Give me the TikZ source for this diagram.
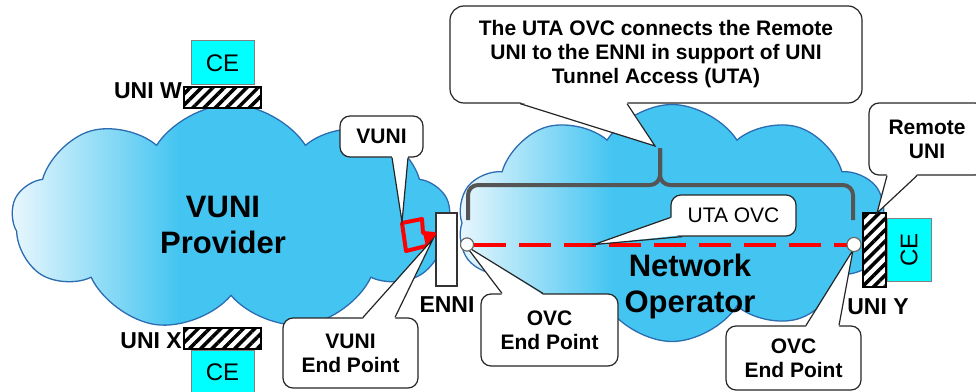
\documentclass[tikz,border=0pt]{standalone}
\usepackage{fontspec}
\setmainfont{Liberation Sans}
\usetikzlibrary{shapes.symbols,patterns.meta,calc}

\definecolor{cloudblue}{HTML}{44C5F1}
\definecolor{cloudlight}{HTML}{EAF7FD}
\definecolor{cloudedge}{HTML}{2C6CB0}
\definecolor{bracegray}{HTML}{555555}
\definecolor{cecyan}{HTML}{00FFFF}

\pgfdeclarehorizontalshading{provshade}{100bp}{color(0bp)=(cloudlight); color(25bp)=(cloudlight); color(44bp)=(cloudblue); color(100bp)=(cloudblue)}
\pgfdeclarehorizontalshading{opshade}{100bp}{color(0bp)=(cloudlight); color(25bp)=(cloudlight); color(43bp)=(cloudblue); color(100bp)=(cloudblue)}

\tikzset{
  cloudbody/.style={cloud, cloud puffs=9, cloud puff arc=115, draw=cloudedge, line width=1.3pt, shade},
  cloudtext/.style={align=center, font=\fontsize{31}{36}\selectfont\bfseries},
  cebox/.style={draw=gray, fill=cecyan, line width=0.8pt, inner sep=0pt,
    minimum width=63pt, minimum height=44pt, font=\fontsize{24}{28}\selectfont},
  unibox/.style={draw=black, line width=1.2pt, inner sep=0pt, preaction={fill=white},
    pattern={Lines[angle=45,distance=8pt,line width=3.5pt]}},
  unilabel/.style={font=\fontsize{23}{27}\selectfont\bfseries, inner sep=0pt},
  calloutbox/.style={draw=black!85, fill=white, line width=1.2pt, rounded corners=10pt,
    align=center, inner sep=0pt, font=\fontsize{21}{24}\selectfont\bfseries},
  pointer/.style={draw=black!85, line width=1.2pt},
  endpoint/.style={circle, draw=black!60, fill=white, line width=1pt, inner sep=0pt},
  ovcline/.style={red, line width=4pt, dash pattern=on 32pt off 13pt},
  bracestyle/.style={bracegray, line width=4pt, rounded corners=10pt},
}

\begin{document}
\begin{tikzpicture}[x=1pt,y=-1pt]
  \useasboundingbox (0,0) rectangle (976,391);

  % clouds
  \node[cloudbody, aspect=1.93, minimum width=438pt, minimum height=227pt, shading=provshade] (provcloud) at (231,218) {};
  \node[cloudbody, cloud puffs=10, aspect=1.81, minimum width=429pt, minimum height=237pt, shading=opshade] (opcloud) at (672,223) {};
  \node[cloudtext] (provtext) at (223,225) {VUNI\\Provider};
  \node[cloudtext] (optext) at (690,286) {Network\\Operator};

  % interfaces
  \node[unibox, minimum width=77pt, minimum height=21pt] (uniw) at (222.5,97.5) {};
  \node[cebox, anchor=south] (cew) at (uniw.north) {CE};
  \node[unilabel, anchor=base east] (uniwlabel) at (182,98) {UNI W};

  \node[unibox, minimum width=77pt, minimum height=21pt] (unix) at (222.5,338.5) {};
  \node[cebox, anchor=north] (cex) at (unix.south) {CE};
  \node[unilabel, anchor=base east] (unixlabel) at (182,348) {UNI X};

  \node[unibox, minimum width=23pt, minimum height=74pt] (uniy) at (874.5,250) {};
  \node[cebox, rotate=90, anchor=north] (cey) at (uniy.east) {CE};
  \node[unilabel] (uniylabel) at (878,307) {UNI Y};

  \node[draw=black!80, fill=white, line width=1.2pt, inner sep=0pt, minimum width=21pt, minimum height=73pt] (enni) at (446.5,249.5) {};
  \node[unilabel] (ennilabel) at (447,305) {ENNI};

  % vuni
  \fill[red] (423,233) -- (434,234) -- (426,246) -- cycle;
  \draw[red, line width=4pt, line join=round] (402,223) -- (422,219) -- (423,233) -- (434,234) -- (426,246) -- (406,251) -- cycle;

  % brace over the ovc
  \coordinate (brl) at (468,220);
  \coordinate (brr) at (853,220);
  \coordinate (brtip) at (660,148);
  \draw[bracestyle] (brl) |- (660,185) -- (brtip);
  \draw[bracestyle] (brr) |- (660,185) -- (brtip);

  % ovc end points
  \node[endpoint, minimum size=13pt] (ovcleft) at (467,244.5) {};
  \node[endpoint, minimum size=14pt] (ovcright) at (854,244.5) {};
  \draw[ovcline] (ovcleft) -- (ovcright);

  % callouts
  \node[calloutbox, rounded corners=14pt, minimum width=412pt, minimum height=97pt] (utanote) at (656,54.5)
    {The UTA OVC connects the Remote\\UNI to the ENNI in support of UNI\\Tunnel Access (UTA)};
  \coordinate (utanotetip) at (655,146);
  \fill[white] ([xshift=-136pt,yshift=1.5pt]utanote.south) -- (utanotetip) -- ([xshift=-29pt,yshift=1.5pt]utanote.south) -- cycle;
  \draw[pointer] ([xshift=-136pt]utanote.south) -- (utanotetip) -- ([xshift=-29pt]utanote.south);

  \node[calloutbox, minimum width=83pt, minimum height=41pt] (vuni) at (381.5,136.5) {VUNI};
  \coordinate (vunitip) at (402,222);
  \fill[white] ([xshift=10.5pt,yshift=1.5pt]vuni.south) -- (vunitip) -- ([xshift=26.5pt,yshift=1.5pt]vuni.south) -- cycle;
  \draw[pointer] ([xshift=10.5pt]vuni.south) -- (vunitip) -- ([xshift=26.5pt]vuni.south);

  \node[calloutbox, minimum width=135pt, minimum height=70pt] (vuniep) at (350.5,353) {VUNI\\End Point};
  \coordinate (vunieptip) at (433,239);
  \fill[white] ([xshift=12.5pt,yshift=-1.5pt]vuniep.north) -- (vunieptip) -- ([xshift=44.5pt,yshift=-1.5pt]vuniep.north) -- cycle;
  \draw[pointer] ([xshift=12.5pt]vuniep.north) -- (vunieptip) -- ([xshift=44.5pt]vuniep.north);

  \node[calloutbox, font=\fontsize{21}{24}\selectfont, minimum width=125pt, minimum height=41pt] (utaovc) at (733.5,215.5) {UTA OVC};
  \coordinate (utaovctip) at (594,244.5);
  \fill[white] ([xshift=1.5pt,yshift=-2pt]utaovc.west) -- (utaovctip) -- ([xshift=12pt,yshift=1.5pt]utaovc.south west) -- cycle;
  \draw[pointer] ([yshift=-2pt]utaovc.west) -- (utaovctip) -- ([xshift=12pt]utaovc.south west);

  \node[calloutbox, minimum width=116pt, minimum height=72pt] (remuni) at (927,139) {Remote\\UNI};
  \coordinate (remunitip) at (877,213);
  \fill[white] ([xshift=-40pt,yshift=1.5pt]remuni.south) -- (remunitip) -- ([xshift=-10pt,yshift=1.5pt]remuni.south) -- cycle;
  \draw[pointer] ([xshift=-40pt]remuni.south) -- (remunitip) -- ([xshift=-10pt]remuni.south);

  \node[calloutbox, minimum width=137pt, minimum height=72pt] (ovcepleft) at (549.5,330) {OVC\\End Point};
  \coordinate (ovcleftip) at (466,246);
  \fill[white] ([xshift=-47.5pt,yshift=-1.5pt]ovcepleft.north) -- (ovcleftip) -- ([xshift=-6.5pt,yshift=-1.5pt]ovcepleft.north) -- cycle;
  \draw[pointer] ([xshift=-47.5pt]ovcepleft.north) -- (ovcleftip) -- ([xshift=-6.5pt]ovcepleft.north);

  \node[calloutbox, minimum width=135pt, minimum height=64pt] (ovcepright) at (793.5,358) {OVC\\End Point};
  \coordinate (ovcrighttip) at (853,250);
  \fill[white] ([xshift=12.5pt,yshift=-1.5pt]ovcepright.north) -- (ovcrighttip) -- ([xshift=45.5pt,yshift=-1.5pt]ovcepright.north) -- cycle;
  \draw[pointer] ([xshift=12.5pt]ovcepright.north) -- (ovcrighttip) -- ([xshift=45.5pt]ovcepright.north);

  % end points on top
  \node[endpoint, minimum size=13pt] at (ovcleft) {};
  \node[endpoint, minimum size=14pt] at (ovcright) {};
\end{tikzpicture}
\end{document}
